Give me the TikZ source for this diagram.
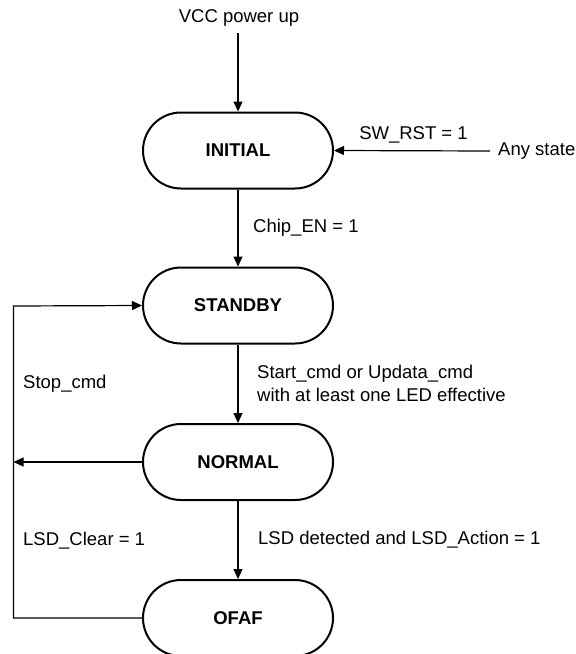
\documentclass[tikz,border=0pt]{standalone}
\usepackage{fontspec}
\setmainfont{Liberation Sans}
\usetikzlibrary{arrows.meta}
\begin{document}
\begin{tikzpicture}[x=1pt,y=-1pt,
  font=\fontsize{18.5}{23}\selectfont,
  state/.style={draw, line width=2pt, rectangle, rounded corners=38pt,
    minimum width=190pt, minimum height=76pt, font=\fontsize{18.5}{23}\selectfont\bfseries},
  lbl/.style={anchor=west, inner sep=0pt, align=left},
  conn/.style={line width=1.2pt, -{Triangle[length=10pt,width=9pt]}},
  wire/.style={line width=1.2pt}]
\useasboundingbox (0,0) rectangle (576,654);
\node[inner sep=0pt] (vcc) at (239,18) {VCC power up};
\coordinate (vcctop) at (238,33);
\node[state] (initial) at (238,150.5) {INITIAL};
\node[state] (standby) at (238,305.5) {STANDBY};
\node[state] (normal) at (238,462) {NORMAL};
\node[state] (ofaf) at (238,618) {OFAF};
\node[anchor=west, inner sep=0pt] (any) at (498,151) {Any state};
\coordinate (anystart) at (490,151);
\coordinate (lefttop) at (13.5,306);
\coordinate (leftmid) at (13.5,462);
\coordinate (leftbot) at (13.5,618);
% connectors
\draw[conn] (vcctop) -- (initial.north);
\draw[conn] (anystart) -- (initial.east);
\draw[conn] (initial.south) -- (standby.north);
\draw[conn] (standby.south) -- (normal.north);
\draw[conn] (normal.south) -- (ofaf.north);
\draw[conn] (normal.west) -- (leftmid);
\draw[conn] (ofaf.west) -- (leftbot) -- (lefttop) -- (standby.west);
% labels
\node[inner sep=0pt] (swrst) at (413.5,135) {SW\_RST = 1};
\node[lbl] (chipen) at (253,227.5) {Chip\_EN = 1};
\node[lbl] (start) at (257,383.5) {Start\_cmd or Updata\_cmd\\with at least one LED effective};
\node[lbl] (stop) at (23,384) {Stop\_cmd};
\node[lbl] (lsdclear) at (23,541) {LSD\_Clear = 1};
\node[lbl] (lsddet) at (258,540) {LSD detected and LSD\_Action = 1};
\end{tikzpicture}
\end{document}
